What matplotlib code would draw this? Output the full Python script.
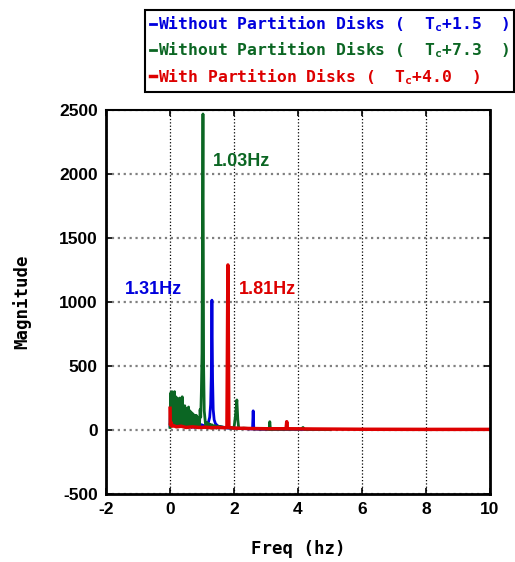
import numpy as np
import matplotlib.pyplot as plt

plt.rcParams['axes.unicode_minus'] = False
plt.rcParams['mathtext.fontset'] = 'custom'
plt.rcParams['mathtext.rm'] = 'DejaVu Sans Mono:bold'
plt.rcParams['mathtext.it'] = 'DejaVu Sans Mono:bold'
plt.rcParams['mathtext.bf'] = 'DejaVu Sans Mono:bold'

# Espectro sin discos, caso Tc+1.5 (azul)
blue_f = [0.00, 0.02, 0.04, 0.06, 0.08, 0.10, 0.12, 0.14, 0.16, 0.18, 0.20, 0.22, 0.24, 0.26,
          0.28, 0.30, 0.32, 0.34, 0.36, 0.38, 0.40, 0.42, 0.44, 0.46, 0.48, 0.50, 0.52, 0.54,
          0.56, 0.58, 0.60, 0.62, 0.64, 0.66, 0.68, 0.70, 0.72, 0.74, 0.76, 0.78, 0.80, 0.84,
          0.88, 0.92, 0.96, 1.00, 1.05, 1.10, 1.15, 1.20, 1.24, 1.27, 1.29, 1.31, 1.33, 1.35,
          1.38, 1.42, 1.46, 1.50, 1.60, 1.70, 1.80, 2.00, 2.20, 2.40, 2.58, 2.60, 2.62, 2.80,
          3.20, 3.60, 4.00, 4.50, 5.00]
blue_m = [30, 240, 50, 250, 40, 260, 60, 230, 40, 220, 70, 200, 50, 230, 60,
          190, 40, 180, 60, 200, 30, 170, 50, 160, 40, 150, 60, 150, 30, 140,
          40, 120, 30, 110, 20, 100, 30, 90, 20, 80, 60, 70, 50, 50, 40,
          40, 35, 30, 40, 60, 100, 200, 420, 1015, 400, 160, 80, 50, 40, 30,
          25, 20, 15, 15, 12, 10, 8, 150, 8, 6, 5, 5, 5, 4, 3]

# Espectro sin discos, caso Tc+7.3 (verde)
green_f = [0.00, 0.02, 0.04, 0.06, 0.08, 0.10, 0.12, 0.14, 0.16, 0.18, 0.20, 0.22, 0.24, 0.26,
           0.28, 0.30, 0.32, 0.34, 0.36, 0.38, 0.40, 0.42, 0.44, 0.46, 0.48, 0.50, 0.52, 0.54,
           0.56, 0.58, 0.60, 0.62, 0.64, 0.66, 0.68, 0.70, 0.72, 0.74, 0.76, 0.78, 0.80, 0.82,
           0.84, 0.86, 0.88, 0.90, 0.92, 0.94, 0.96, 0.98, 1.00, 1.03, 1.05, 1.07, 1.10, 1.12,
           1.15, 1.18, 1.20, 1.23, 1.26, 1.29, 1.32, 1.35, 1.40, 1.45, 1.50, 1.60, 1.70, 1.80,
           1.90, 2.00, 2.05, 2.09, 2.12, 2.15, 2.30, 2.60, 3.00, 3.10, 3.12, 3.14, 3.60, 4.10,
           4.16, 4.20, 4.60, 5.00]
green_m = [20, 290, 60, 300, 40, 285, 70, 300, 50, 260, 80, 250, 40, 230,
           60, 250, 50, 200, 70, 260, 40, 180, 60, 190, 30, 170, 50, 170,
           40, 180, 30, 150, 50, 140, 30, 130, 40, 120, 30, 110, 25, 115,
           30, 100, 20, 95, 30, 160, 100, 300, 600, 2470, 500, 150, 70, 20,
           60, 15, 50, 20, 45, 15, 40, 20, 35, 15, 30, 25, 20, 18,
           15, 15, 120, 235, 80, 10, 15, 10, 8, 5, 65, 5, 6, 8,
           20, 5, 5, 3]

# Espectro con discos, caso Tc+4.0 (rojo)
red_f = [0.00, 0.01, 0.03, 0.06, 0.10, 0.20, 0.35, 0.50, 0.70, 0.90, 1.10, 1.30, 1.50,
         1.70, 1.78, 1.81, 1.84, 2.00, 2.50, 3.00, 3.63, 3.65, 3.67, 4.50, 6.00, 8.00, 10.00]
red_m = [170, 40, 60, 30, 35, 25, 30, 20, 25, 20, 22, 18, 20,
         18, 20, 1290, 20, 15, 12, 10, 10, 65, 10, 8, 6, 5, 5]

# (frecuencia del pico, color, posición x, posición y de la etiqueta)
peak_labels = [(1.31, '#0000dd', -1.42, 1100), (1.03, '#0b6623', 1.34, 2100), (1.81, '#dd0000', 2.16, 1100)]

fig = plt.figure(figsize=(5.15, 5.62), dpi=100)
ax = fig.add_axes([0.206, 0.121, 0.745, 0.683])

ax.plot(blue_f, blue_m, color='#0000dd', lw=2,
        label='Without Partition Disks (  T$_c$+1.5  )')
ax.plot(green_f, green_m, color='#0b6623', lw=2,
        label='Without Partition Disks (  T$_c$+7.3  )')
ax.plot(red_f, red_m, color='#dd0000', lw=2.5,
        label='With Partition Disks (  T$_c$+4.0  )')

txt_font = dict(family='Liberation Sans', weight='bold', fontsize=13)
for f, c, xo, yo in peak_labels:
    ax.text(xo, yo, f'{f:.2f}Hz', color=c, va='center', **txt_font)

ax.set_xlim(-2, 10)
ax.set_ylim(-500, 2500)
ax.set_xticks(np.arange(-2, 11, 2))
ax.set_yticks(np.arange(-500, 2501, 500))
ax.grid(axis='x', color='black', linestyle=':', lw=0.9)
ax.grid(axis='y', color='gray', linestyle=':', lw=1.6)
ax.tick_params(direction='in', length=4, top=True, right=True, width=1.2, pad=6)
for lab in ax.get_xticklabels() + ax.get_yticklabels():
    lab.set_fontfamily('Liberation Sans')
    lab.set_fontweight('bold')
    lab.set_fontsize(12.5)
for side in ['left', 'bottom', 'right']:
    ax.spines[side].set_linewidth(2)
ax.spines['top'].set_linewidth(1.5)

ax.set_xlabel('Freq (hz)', family='DejaVu Sans Mono', weight='bold', fontsize=12.5, labelpad=16)
ax.set_ylabel('Magnitude', family='DejaVu Sans Mono', weight='bold', fontsize=12.5, labelpad=20)

leg = ax.legend(loc='upper right', bbox_to_anchor=(0.998, 0.983), bbox_transform=fig.transFigure,
                prop=dict(family='DejaVu Sans Mono', weight='bold', size=11.8),
                handlelength=0.35, handletextpad=0.1, borderpad=0.3, labelspacing=0.4,
                fancybox=False, framealpha=1, edgecolor='black', borderaxespad=0)
leg.get_frame().set_linewidth(1.5)
for t, h in zip(leg.get_texts(), leg.legend_handles):
    t.set_color(h.get_color())

fig.savefig('out.png', dpi=100)
